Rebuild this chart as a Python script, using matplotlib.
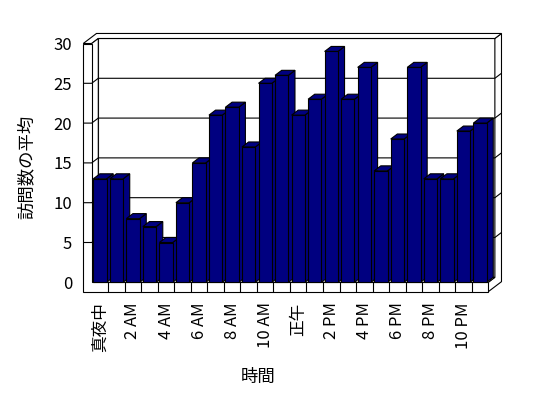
import matplotlib
matplotlib.use("Agg")
import matplotlib.pyplot as plt
from matplotlib.patches import Polygon

plt.rcParams['font.family'] = ['Noto Sans CJK JP', 'DejaVu Sans']

# hourly averages, one bar per hour
hours = list(range(24))
visits = [13, 13, 8, 7, 5, 10, 15, 21, 22, 17, 25, 26,
          21, 23, 29, 23, 27, 14, 18, 27, 13, 13, 19, 20]
tick_hours = list(range(0, 24, 2))
tick_labels = ['真夜中', '2 AM', '4 AM', '6 AM', '8 AM', '10 AM',
               '正午', '2 PM', '4 PM', '6 PM', '8 PM', '10 PM']
y_ticks = [0, 5, 10, 15, 20, 25, 30]

NAVY = '#000080'
LW = 0.8

fig = plt.figure(figsize=(5.48, 3.98), dpi=100)
fig.patch.set_facecolor('white')
# axes = front plane of the fake 3D box
ax = fig.add_axes([0.1673, 0.2907, 0.7237, 0.6])
ax.set_xlim(-0.5, 23.5)
ax.set_ylim(0, 30)
ax.patch.set_visible(False)
for s in ax.spines.values():
    s.set_visible(False)

# depth offset (one "layer"), wall thicknesses, in data units
dx, dy = 0.40, 0.63
tl, tf = 0.51, 1.18
X0, X1, Y0, Y1 = -0.5, 23.5, 0, 30


def P(x, y, z):
    return (x + z * dx, y + z * dy)


def poly(pts, z, fc='white'):
    ax.add_patch(Polygon(pts, closed=True, facecolor=fc, edgecolor='black',
                         linewidth=LW, zorder=z, clip_on=False,
                         joinstyle='miter'))


def line(pts, z=1.5):
    xs, ys = zip(*pts)
    ax.plot(xs, ys, color='black', lw=LW, zorder=z, clip_on=False,
            solid_capstyle='butt')


# back wall (inner face) + rims
poly([P(X0, Y0, 1), P(X1, Y0, 1), P(X1, Y1, 1), P(X0, Y1, 1)], 1)
poly([P(X1, Y0 - tf, 0), P(X1, Y0 - tf, 2), P(X1, Y1, 2), P(X1, Y1, 1),
      P(X1, Y0, 1), P(X1, Y0, 0)], 1)
poly([P(X0, Y1, 1), P(X1, Y1, 1), P(X1, Y1, 2), P(X0 - tl, Y1, 2),
      P(X0 - tl, Y1, 0), P(X0, Y1, 0)], 1)
# left wall inner face
poly([P(X0, Y0, 0), P(X0, Y0, 1), P(X0, Y1, 1), P(X0, Y1, 0)], 1)
# floor top
poly([P(X0, Y0, 0), P(X1, Y0, 0), P(X1, Y0, 1), P(X0, Y0, 1)], 1)
# front L: left wall face + floor front face
poly([P(X0 - tl, Y0 - tf, 0), P(X1, Y0 - tf, 0), P(X1, Y0, 0), P(X0, Y0, 0),
      P(X0, Y1, 0), P(X0 - tl, Y1, 0)], 1)
for k in range(1, 24):
    line([(k - 0.5, Y0 - tf), (k - 0.5, Y0)])

# gridlines across left wall, back wall and right rim
for v in y_ticks[1:-1]:
    line([P(X0 - tl, v, 0), P(X0, v, 0), P(X0, v, 1), P(X1, v, 1),
          P(X1, v, 2)])

# bars
w = 0.805
bars = ax.bar(hours, visits, width=w, color=NAVY, edgecolor='black',
              linewidth=LW)
for i, (h, v) in enumerate(zip(hours, visits)):
    xl, xr = h - w / 2, h + w / 2
    z = 3 + 2 * i
    poly([P(xr, 0, 0), P(xr, 0, 1), P(xr, v, 1), P(xr, v, 0)], z, NAVY)
    poly([P(xl, v, 0), P(xl, v, 1), P(xr, v, 1), P(xr, v, 0)], z, NAVY)
    bars[i].set_zorder(z + 1)
    bars[i].set_clip_on(False)

ax.set_xticks(tick_hours)
ax.set_xticklabels(tick_labels, rotation=90, va='top', ha='center',
                   fontsize=12)
ax.set_yticks(y_ticks)
ax.set_yticklabels([str(t) for t in y_ticks], fontsize=12)
ax.tick_params(axis='x', length=0, pad=14.5)
ax.tick_params(axis='y', length=0, pad=14)

ax.set_ylabel('訪問数の平均', fontsize=12.5, va='center')
ax.yaxis.set_label_coords(-0.165, 0.483)
ax.set_xlabel('時間', fontsize=12.5, va='center')
ax.xaxis.set_label_coords(0.419, -0.395)

fig.savefig('out.png', dpi=100)
